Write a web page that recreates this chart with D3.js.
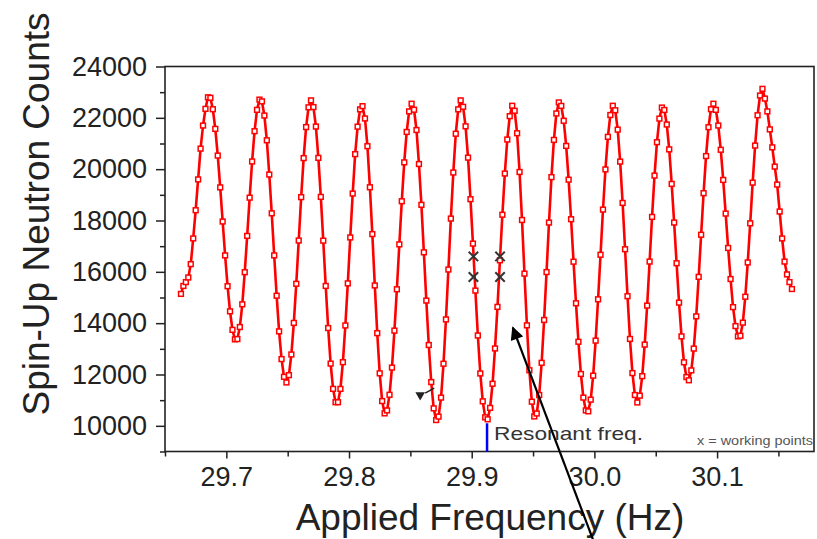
<!DOCTYPE html>
<html>
<head>
<meta charset="utf-8">
<script src="https://cdn.jsdelivr.net/npm/d3@7"></script>
<style>
  body { margin: 0; background: #fff; }
  svg { display: block; }
  text { font-family: Arial, "Liberation Sans", sans-serif; }
</style>
</head>
<body>
<svg id="chart" width="817" height="539"></svg>
<script>
// Ramsey fringe scan: spin-up neutron counts vs applied frequency

// frequency scan (Hz): uniform steps from freqStart
const freqStart = 29.663;
const freqStep = 0.002;

// counts, one per scan step
const counts = [
  15140, 15450, 15600, 15780, 16300, 17300, 18400, 19600, 20800, 21700, 22350, 22800,
  22780, 22335, 21570, 20530, 19290, 17960, 16640, 15440, 14460, 13740, 13370,
  13380, 13850, 14735, 15985, 17400, 18890, 20300, 21480, 22310, 22710,
  22640, 22090, 21125, 19790, 18280, 16640, 15070, 13680, 12600, 11910,
  11690, 11975, 12780, 14010, 15535, 17220, 18910, 20430, 21640, 22410, 22680,
  22420, 21660, 20440, 18920, 17215, 15450, 13810, 12425, 11440, 10920,
  10920, 11440, 12480, 13910, 15550, 17340, 19050, 20585, 21655, 22330,
  22455, 21975, 20895, 19295, 17470, 15470, 13610, 12045, 10965, 10485,
  10600, 11210, 12270, 13710, 15320, 17070, 18750, 20265, 21450, 22250, 22550,
  22315, 21525, 20200, 18610, 16760, 14880, 13150, 11705, 10680, 10225,
  10360, 11100, 12420, 14145, 16090, 18075, 19870, 21380, 22330, 22680,
  22430, 21670, 20450, 18830, 17100, 15270, 13520, 12040, 10955, 10330,
  10255, 10700, 11640, 13015, 14635, 16450, 18225, 19830, 21155, 22065, 22470,
  22275, 21400, 19890, 18020, 15930, 13915, 12165, 10940, 10365,
  10480, 11200, 12455, 14125, 15990, 17920, 19690, 21140, 22170, 22600,
  22465, 21885, 20905, 19590, 18050, 16395, 14775, 13275, 12020, 11100, 10600,
  10565, 11020, 11955, 13320, 14930, 16665, 18425, 19990, 21260, 22110, 22470,
  22295, 21540, 20295, 18685, 16880, 15050, 13385, 12055, 11200,
  10910, 11175, 11935, 13165, 14685, 16400, 18140, 19750, 21050, 21970, 22400,
  22305, 21740, 20770, 19425, 17920, 16335, 14800, 13485, 12475, 11900,
  11775, 12160, 13010, 14265, 15805, 17445, 19065, 20510, 21635, 22335,
  22550, 22310, 21700, 20755, 19580, 18270, 16930, 15720, 14625, 13885, 13485,
  13510, 14020, 15030, 16365, 17890, 19475, 20920, 22100, 22870, 23130,
  22750, 22250, 21550, 20850, 20100, 19400, 18350, 17300, 16400, 15900, 15600, 15330
];

// working points (x marks)
const workFreq = [29.9014, 29.9014, 29.9231, 29.9231];
const workCounts = [16600, 15800, 16600, 15800];

// resonance marker
const resonantFreq = 29.9125;
const resonantCount = 10100;

// tick values
const xMajor = [29.7, 29.8, 29.9, 30.0, 30.1];
const xMinor = [29.65, 29.75, 29.85, 29.95, 30.05, 30.15];
const yMajor = [10000, 12000, 14000, 16000, 18000, 20000, 22000, 24000];
const yMinor = [9000, 11000, 13000, 15000, 17000, 19000, 21000, 23000];

// annotation arrow (tip and tail in data units) and small triangle
const arrowTip = [29.9335, 13830];
const arrowTail = [29.9990, 5550];
const triangleAt = [29.858, 11200];

const data = counts.map((c, i) => ({ f: freqStart + i * freqStep, c: c }));

const svg = d3.select("#chart");
const x = d3.scaleLinear().domain([29.65, 30.179]).range([165, 814]);
const y = d3.scaleLinear().domain([9000, 24000]).range([451.5, 66.5]);

svg.append("rect").attr("width", 817).attr("height", 539).attr("fill", "#fff");

// axes
const gx = svg.append("g").attr("transform", `translate(0,${y.range()[0]})`);
gx.call(d3.axisBottom(x).tickValues(xMajor).tickSize(7).tickPadding(8).tickFormat(d3.format(".1f")));
gx.append("g").call(d3.axisBottom(x).tickValues(xMinor).tickSize(5).tickFormat(""));
gx.selectAll(".domain").remove();

const gy = svg.append("g").attr("transform", `translate(${x.range()[0]},0)`);
gy.call(d3.axisLeft(y).tickValues(yMajor).tickSize(9).tickPadding(9).tickFormat(d3.format("d")));
gy.append("g").call(d3.axisLeft(y).tickValues(yMinor).tickSize(5).tickFormat(""));
gy.selectAll(".domain").remove();

svg.selectAll(".tick line").attr("stroke", "#222").attr("stroke-width", 1.5);
svg.selectAll(".tick text").attr("fill", "#222").style("font-size", "27px")
  .style("font-family", "Arial, 'Liberation Sans', sans-serif");

// frame
svg.append("rect")
  .attr("x", x.range()[0]).attr("y", y.range()[1])
  .attr("width", x.range()[1] - x.range()[0])
  .attr("height", y.range()[0] - y.range()[1])
  .attr("fill", "none").attr("stroke", "#222").attr("stroke-width", 1.6);

// axis titles
svg.append("text")
  .attr("x", 490).attr("y", 530)
  .attr("text-anchor", "middle")
  .attr("fill", "#222")
  .style("font-size", "37px")
  .text("Applied Frequency (Hz)");

svg.append("text")
  .attr("transform", "translate(49,214) rotate(-90)")
  .attr("text-anchor", "middle")
  .attr("fill", "#222")
  .style("font-size", "37px")
  .text("Spin-Up Neutron Counts");

// resonance line and label
svg.append("line")
  .attr("x1", x(resonantFreq)).attr("x2", x(resonantFreq))
  .attr("y1", y(resonantCount)).attr("y2", y.range()[0])
  .attr("stroke", "#0000ff").attr("stroke-width", 2.5);

svg.append("text")
  .attr("x", x(resonantFreq) + 7).attr("y", 440)
  .attr("fill", "#333")
  .style("font-size", "19px")
  .attr("textLength", 149).attr("lengthAdjust", "spacingAndGlyphs")
  .text("Resonant freq.");

svg.append("text")
  .attr("x", 697).attr("y", 445)
  .attr("fill", "#555")
  .style("font-size", "12px")
  .attr("textLength", 116).attr("lengthAdjust", "spacingAndGlyphs")
  .text("x = working points");

// data line and open square markers
const line = d3.line().x(d => x(d.f)).y(d => y(d.c));
svg.append("path")
  .datum(data)
  .attr("d", line)
  .attr("fill", "none")
  .attr("stroke", "#ff0000")
  .attr("stroke-width", 2.6)
  .attr("stroke-linejoin", "round");

svg.append("g")
  .selectAll("rect")
  .data(data)
  .join("rect")
  .attr("x", d => x(d.f) - 2.4)
  .attr("y", d => y(d.c) - 2.4)
  .attr("width", 4.8).attr("height", 4.8)
  .attr("fill", "#fff")
  .attr("stroke", "#ff0000")
  .attr("stroke-width", 1.5);

// working points
svg.append("g")
  .selectAll("path")
  .data(workFreq.map((f, i) => ({ f: f, c: workCounts[i] })))
  .join("path")
  .attr("transform", d => `translate(${x(d.f)},${y(d.c)})`)
  .attr("d", d3.symbol().type(d3.symbolX).size(60))
  .attr("fill", "none")
  .attr("stroke", "#333")
  .attr("stroke-width", 2);

// small triangle marker
svg.append("path")
  .attr("transform", `translate(${x(triangleAt[0])},${y(triangleAt[1])}) rotate(180)`)
  .attr("d", d3.symbol().type(d3.symbolTriangle).size(40))
  .attr("fill", "#222");
svg.append("line")
  .attr("x1", x(triangleAt[0]) + 5).attr("y1", y(triangleAt[1]) - 2)
  .attr("x2", x(triangleAt[0]) + 14).attr("y2", y(triangleAt[1]) - 7)
  .attr("stroke", "#222").attr("stroke-width", 1.5);

// big annotation arrow
svg.append("defs").append("marker")
  .attr("id", "head")
  .attr("viewBox", "0 0 10 10")
  .attr("refX", 9).attr("refY", 5)
  .attr("markerWidth", 7).attr("markerHeight", 6)
  .attr("markerUnits", "strokeWidth")
  .attr("orient", "auto")
  .append("path").attr("d", "M0,0 L10,5 L0,10 z").attr("fill", "#000");

svg.append("line")
  .attr("x1", x(arrowTail[0])).attr("y1", y(arrowTail[1]))
  .attr("x2", x(arrowTip[0])).attr("y2", y(arrowTip[1]))
  .attr("stroke", "#000").attr("stroke-width", 2.2)
  .attr("marker-end", "url(#head)");
</script>
</body>
</html>
